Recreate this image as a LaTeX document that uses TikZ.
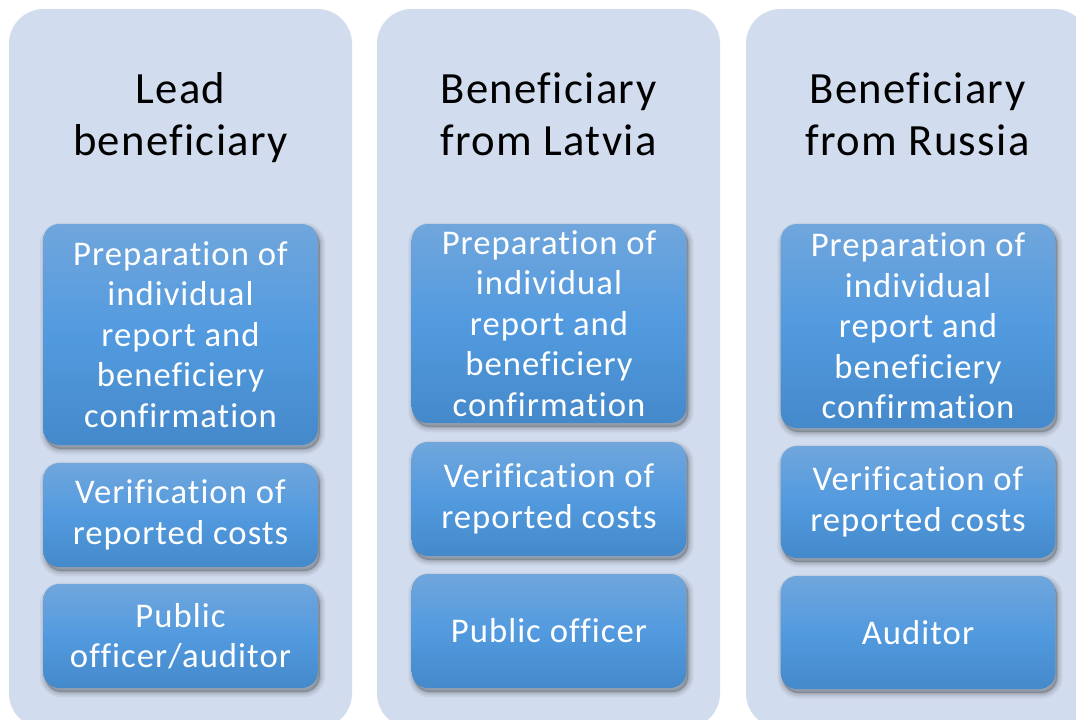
\documentclass[tikz,border=0pt]{standalone}
\usepackage{fontspec}
\setmainfont{Carlito}[LetterSpace=3.0,Ligatures={NoCommon,NoRare}]
\usetikzlibrary{shadows}
\definecolor{panelcol}{HTML}{D1DCEE}
\definecolor{boxtop}{HTML}{70A6DC}
\definecolor{boxmid}{HTML}{529ADF}
\definecolor{boxbot}{HTML}{4489CA}
\begin{document}
\begin{tikzpicture}[x=0.75pt,y=-0.75pt,
  panel/.style={fill=panelcol, draw=none, rounded corners=26pt, minimum width=257.25pt, minimum height=539.25pt, inner sep=0pt},
  title/.style={font=\fontsize{33.5}{39}\selectfont, text=black, align=center, inner sep=0pt},
  blurshadow/.style={
    general shadow={shadow xshift=1.5pt, shadow yshift=-3pt, fill=black, draw=black, opacity=0.05, line width=8pt},
    general shadow={shadow xshift=1.5pt, shadow yshift=-3pt, fill=black, draw=black, opacity=0.07, line width=5pt},
    general shadow={shadow xshift=1.5pt, shadow yshift=-3pt, fill=black, draw=black, opacity=0.09, line width=2pt}},
  stepbox/.style={rounded corners=12pt, top color=boxtop, bottom color=boxbot, middle color=boxmid,
    minimum width=205.9pt, inner sep=0pt, text=white, align=center,
    font=\fontsize{26}{30.4}\selectfont, blurshadow},
]
\useasboundingbox (0,0) rectangle (1076,719);
\clip (0,0) rectangle (1076,719);
\fill[white] (0,0) rectangle (1076,719);

% panels
\node[panel] (p1) at (180.5,368.5) {};
\node[panel] (p2) at (548.5,368.5) {};
\node[panel] (p3) at (917.5,368.5) {};

% titles
\node[title] (t1) at (180.5,118) {Lead\\beneficiary};
\node[title] (t2) at (548.5,114) {Beneficiary\\from Latvia};
\node[title] (t3) at (917.5,114) {Beneficiary\\from Russia};

% column 1
\node[stepbox, minimum height=165.75pt] (a1) at (180.5,334.5) {Preparation of\\individual\\report and\\beneficiery\\confirmation};
\node[stepbox, minimum height=78pt] (a2) at (180.5,515) {Verification of\\reported costs};
\node[stepbox, minimum height=78pt] (a3) at (180.5,636) {Public\\officer/auditor};

% column 2
\node[stepbox, minimum height=149.25pt] (b1) at (549,323.5) {Preparation of\\individual\\report and\\beneficiery\\confirmation};
\node[stepbox, minimum height=85.5pt] (b2) at (549,499) {Verification of\\reported costs};
\node[stepbox, minimum height=85.5pt] (b3) at (549,631) {Public officer};

% column 3
\node[stepbox, minimum height=153pt] (c1) at (918,326) {Preparation of\\individual\\report and\\beneficiery\\confirmation};
\node[stepbox, minimum height=84pt] (c2) at (918,502) {Verification of\\reported costs};
\node[stepbox, minimum height=84.75pt] (c3) at (918,632.5) {Auditor};
\end{tikzpicture}
\end{document}
